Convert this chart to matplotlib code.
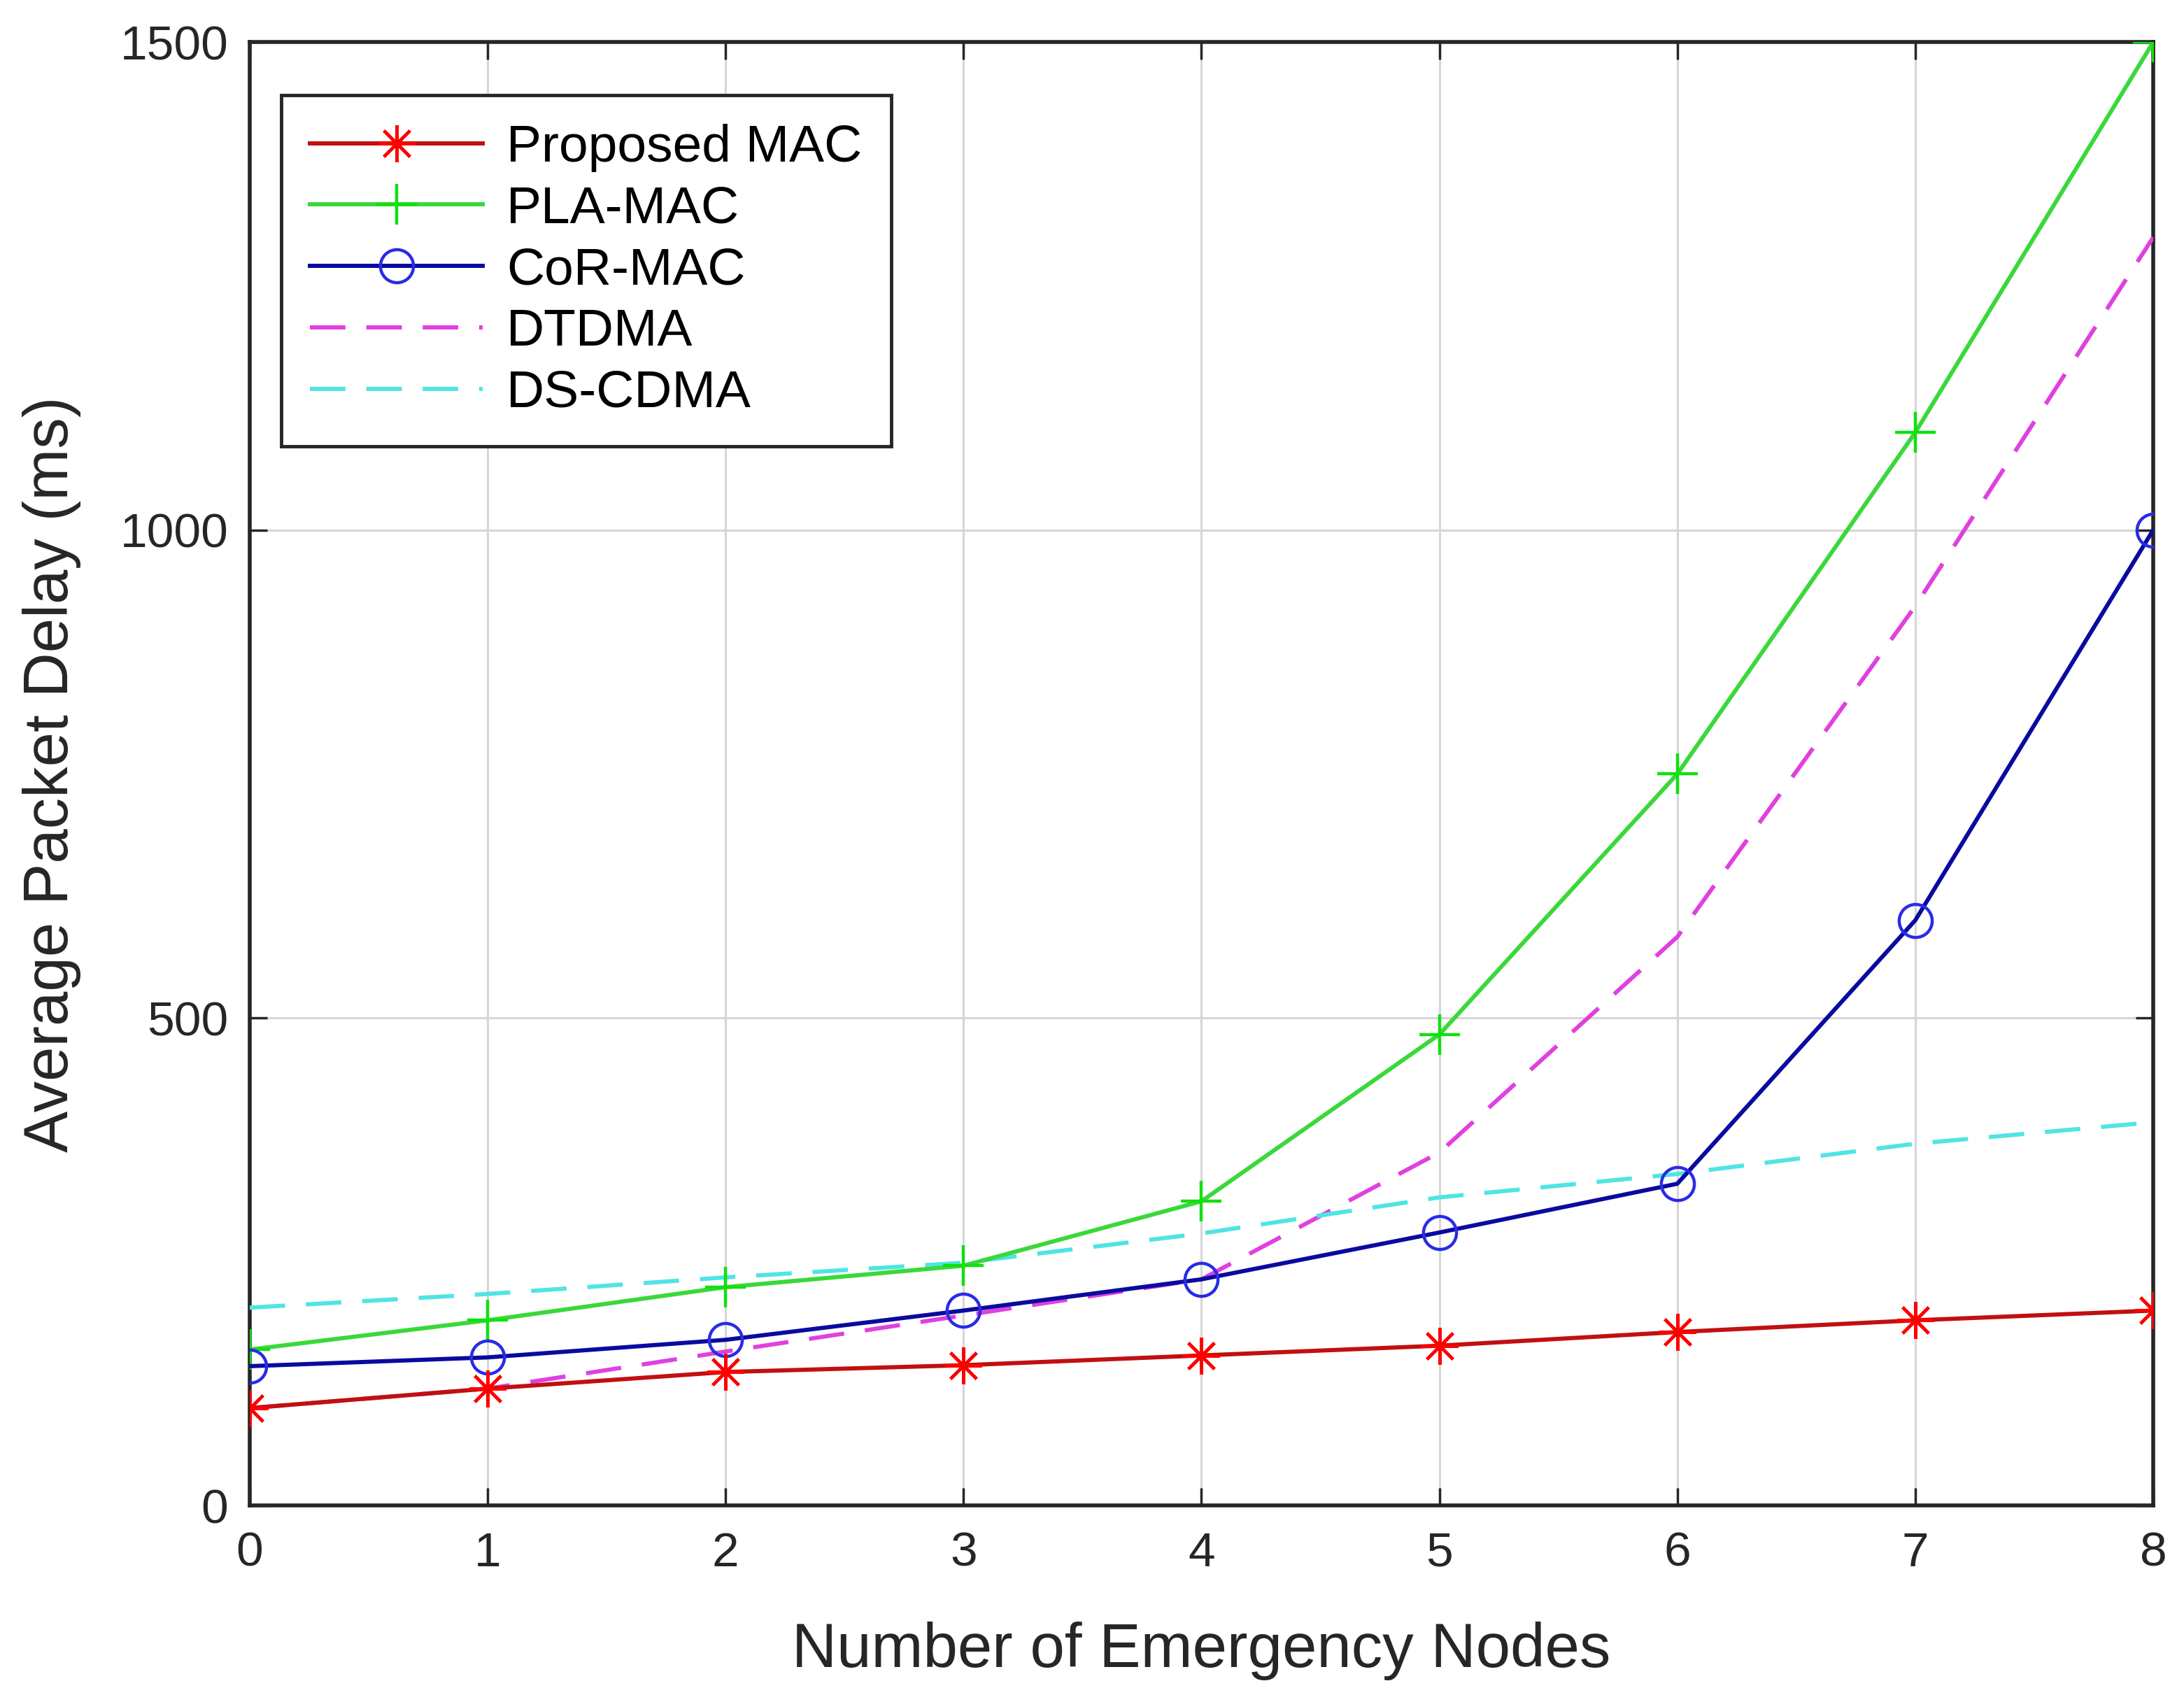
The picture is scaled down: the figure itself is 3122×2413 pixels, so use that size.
import matplotlib
matplotlib.use("Agg")
import matplotlib.pyplot as plt

plt.rcParams['font.family'] = ['Liberation Sans', 'DejaVu Sans']

nodes = [0, 1, 2, 3, 4, 5, 6, 7, 8]
proposed_mac = [100, 120, 137, 144, 154, 164, 178, 190, 200]
pla_mac = [160, 190, 224, 246, 312, 483, 750, 1100, 1500]
cor_mac = [143, 152, 170, 200, 232, 280, 330, 600, 1000]
dtdma = [100, 120, 158, 195, 232, 362, 583, 922, 1300]
ds_cdma = [203, 217, 234, 249, 279, 316, 340, 371, 393]

series_labels = ['Proposed MAC', 'PLA-MAC', 'CoR-MAC', 'DTDMA', 'DS-CDMA']
x_ticks = [0, 1, 2, 3, 4, 5, 6, 7, 8]
y_ticks = [0, 500, 1000, 1500]
x_label = 'Number of Emergency Nodes'
y_label = 'Average Packet Delay (ms)'

fig = plt.figure(figsize=(31.22, 24.13), dpi=100)
ax = fig.add_axes([0.1143, 0.108, 0.8716, 0.867])

lw = 4.3
dash = (0, (8.5, 5))
ax.plot(nodes, proposed_mac, color='#c01010', lw=lw, marker=(8, 2, 0),
        markersize=38, markeredgecolor='#ff0000', markerfacecolor='#ff0000',
        markeredgewidth=3.2, label=series_labels[0], zorder=5)
ax.plot(nodes, pla_mac, color='#3ad83a', lw=lw, marker='+',
        markersize=42, markeredgecolor='#10e010', markeredgewidth=3.2,
        label=series_labels[1], zorder=4)
ax.plot(nodes, cor_mac, color='#0a0aa0', lw=lw, marker='o',
        markersize=34, markeredgecolor='#2a2ae6', markerfacecolor='none',
        markeredgewidth=3.2, label=series_labels[2], zorder=4)
ax.plot(nodes, dtdma, color='#e040e0', lw=lw, ls=dash,
        label=series_labels[3], zorder=3)
ax.plot(nodes, ds_cdma, color='#50e4e4', lw=lw, ls=dash,
        label=series_labels[4], zorder=3)

ax.set_xlim(0, 8)
ax.set_ylim(0, 1500)
ax.set_xticks(x_ticks)
ax.set_yticks(y_ticks)
ax.grid(True, color='#d6d6d6', lw=2.2)
ax.set_axisbelow(True)

for s in ax.spines.values():
    s.set_linewidth(4)
    s.set_color('#262626')

ax.tick_params(direction='in', length=18, width=2.5, top=True, right=True,
               labelsize=50, colors='#262626', pad=22)
ax.tick_params(axis='x', pad=26)

ax.set_xlabel(x_label, fontsize=64, color='#262626', va='center')
ax.xaxis.set_label_coords(0.5, -0.099)
ax.set_ylabel(y_label, fontsize=64, color='#262626', va='center')
ax.yaxis.set_label_coords(-0.104, 0.5)

leg = ax.legend(loc='upper left', bbox_to_anchor=(0.0165, 0.964),
                borderaxespad=0, fontsize=54, handlelength=3.3,
                handletextpad=0.45, labelspacing=0.25, fancybox=False,
                framealpha=1, edgecolor='#262626', borderpad=0.55)
leg.get_frame().set_linewidth(3.5)

fig.savefig('out.png', dpi=100, facecolor='white')
